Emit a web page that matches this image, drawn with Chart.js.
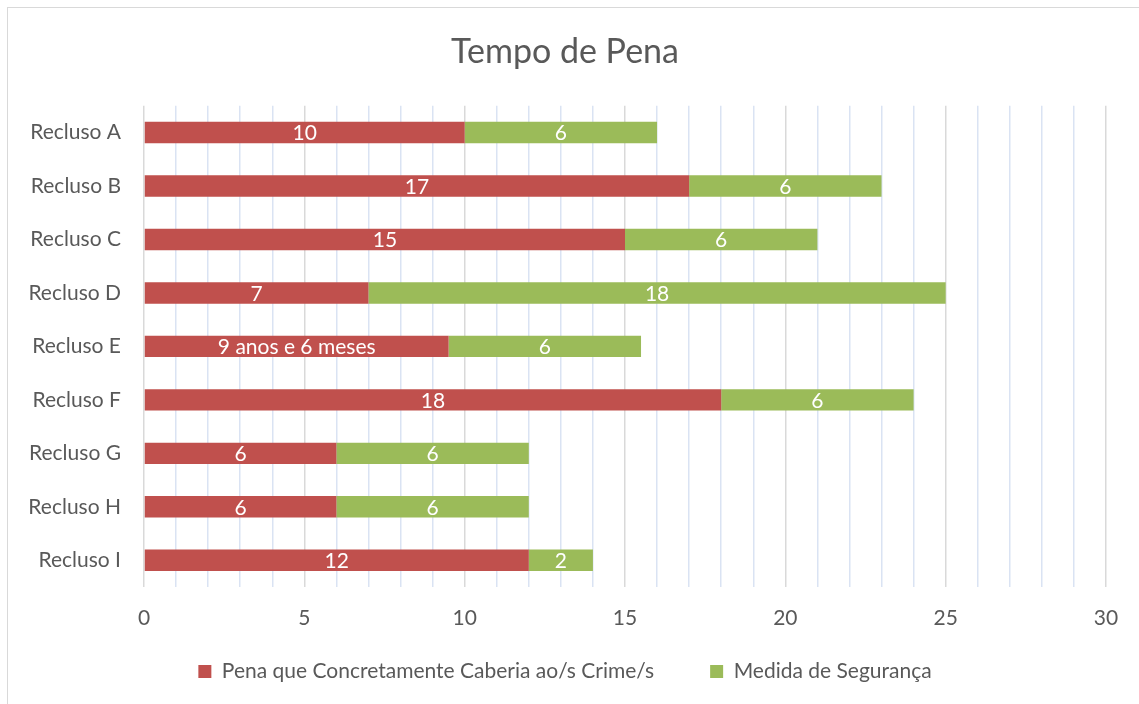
<!DOCTYPE html>
<html>
<head>
<meta charset="utf-8">
<script src="https://cdn.jsdelivr.net/npm/chart.js@4.4.1/dist/chart.umd.min.js"></script>
<style>
  html, body { margin: 0; padding: 0; background: #fff; }
  .frame { position: absolute; left: 7px; top: 7px; width: 1140px; height: 705px; border: 1px solid #d9d9d9; box-sizing: border-box; }
  .wrap { position: absolute; left: 0; top: 0; width: 1139px; height: 704px; }
</style>
</head>
<body>
<div class="frame"></div>
<div class="wrap"><canvas id="grafico" width="1139" height="704"></canvas></div>
<script>
// dados do gráfico
const reclusos = ['Recluso A', 'Recluso B', 'Recluso C', 'Recluso D', 'Recluso E', 'Recluso F', 'Recluso G', 'Recluso H', 'Recluso I'];
const pena = [10, 17, 15, 7, 9.5, 18, 6, 6, 12];
const medida = [6, 6, 6, 18, 6, 6, 6, 6, 2];
const rotulosPena = ['10', '17', '15', '7', '9 anos e 6 meses', '18', '6', '6', '12'];
const rotulosMedida = ['6', '6', '6', '18', '6', '6', '6', '6', '2'];

const fonte = 'Lato, "Open Sans", sans-serif';
const cinza = '#595959';

// escreve os valores no meio de cada barra
const rotulosPlugin = {
    id: 'rotulos',
    afterDatasetsDraw(chart) {
        const ctx = chart.ctx;
        ctx.save();
        ctx.fillStyle = '#ffffff';
        ctx.font = '21px ' + fonte;
        ctx.textAlign = 'center';
        ctx.textBaseline = 'middle';
        chart.data.datasets.forEach((ds, i) => {
            let meta = chart.getDatasetMeta(i);
            meta.data.forEach((bar, j) => {
                let x = (bar.x + bar.base) / 2;
                ctx.fillText(ds.rotulos[j], x, bar.y + 1);
            });
        });
        ctx.restore();
    }
};

new Chart(document.getElementById('grafico'), {
    type: 'bar',
    data: {
        labels: reclusos,
        datasets: [{
            label: 'Pena que Concretamente Caberia ao/s Crime/s',
            data: pena,
            rotulos: rotulosPena,
            backgroundColor: '#c0504d',
            barPercentage: 0.4,
            categoryPercentage: 1
        }, {
            label: 'Medida de Segurança',
            data: medida,
            rotulos: rotulosMedida,
            backgroundColor: '#9bbb59',
            barPercentage: 0.4,
            categoryPercentage: 1
        }]
    },
    options: {
        indexAxis: 'y',
        responsive: false,
        animation: false,
        layout: { padding: { left: 24, right: 33, top: 10, bottom: 12 } },
        scales: {
            x: {
                stacked: true,
                min: 0,
                max: 30,
                ticks: {
                    stepSize: 1,
                    autoSkip: false,
                    maxRotation: 0,
                    color: cinza,
                    padding: 19,
                    font: { family: fonte, size: 21 },
                    callback: v => (v % 5 === 0 ? v : '')
                },
                afterFit: s => {
                    s.height = 18;
                    s._computeLabelArea = () => null; // sem recorte dos números
                },
                grid: {
                    drawTicks: false,
                    lineWidth: 1.5,
                    color: c => (c.tick && c.tick.value % 5 === 0 ? '#d9d9d9' : '#dae3f3')
                },
                border: { display: false }
            },
            y: {
                stacked: true,
                ticks: {
                    color: cinza,
                    padding: 23,
                    font: { family: fonte, size: 21 }
                },
                afterFit: s => { s.width = 120; },
                grid: { display: false, drawTicks: false },
                border: { display: false }
            }
        },
        plugins: {
            title: {
                display: true,
                text: 'Tempo de Pena',
                color: cinza,
                font: { family: fonte, size: 34, weight: 'normal' },
                padding: { top: 22, bottom: 33 }
            },
            legend: {
                position: 'bottom',
                labels: {
                    color: cinza,
                    font: { family: fonte, size: 21 },
                    boxWidth: 13,
                    boxHeight: 13,
                    padding: 56
                }
            },
            tooltip: { enabled: false }
        }
    },
    plugins: [rotulosPlugin]
});
</script>
</body>
</html>
